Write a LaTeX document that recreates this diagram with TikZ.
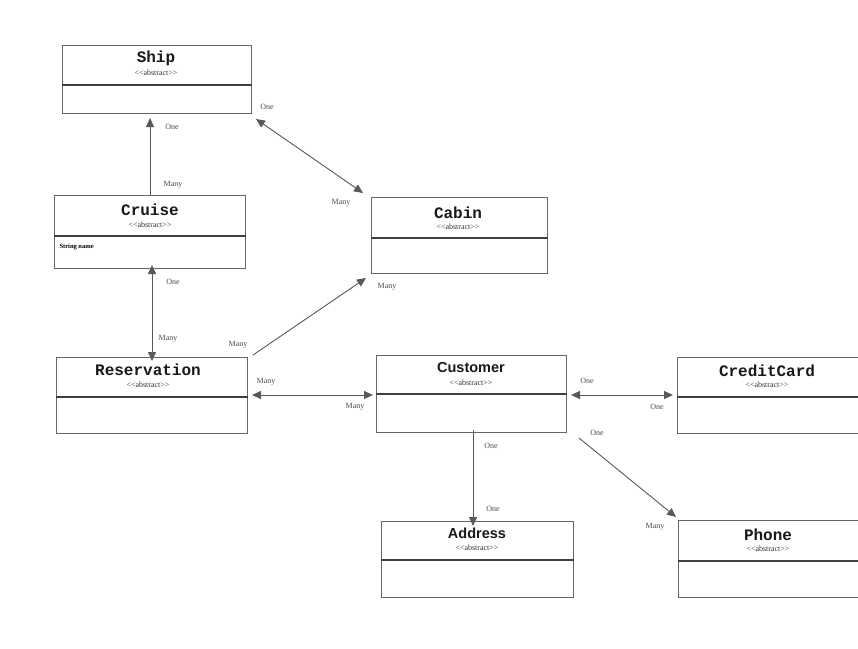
\documentclass[tikz,border=0pt]{standalone}
\usepackage{fontspec}
\setmainfont{Liberation Serif}
\newfontfamily\monob{Liberation Mono}
\newfontfamily\sansb{Liberation Sans}
\usetikzlibrary{arrows.meta}
\newcommand{\abst}{{<}{<}abstract{>}{>}}
\begin{document}
\begin{tikzpicture}[x=1pt,y=-1pt,
  umlbox/.style={draw=black!60, line width=1pt, fill=white, rectangle, inner sep=0pt},
  divider/.style={draw=black!75, line width=1.6pt},
  ttl/.style={font=\monob\bfseries\fontsize{16}{16}\selectfont, text=black!90},
  ttls/.style={font=\sansb\bfseries\fontsize{14.5}{14.5}\selectfont, text=black!90},
  stereo/.style={font=\fontsize{8}{8}\selectfont, text=black!80},
  lbl/.style={font=\fontsize{8}{9}\selectfont, text=black!70},
  assoc/.style={draw=black!65, line width=0.9pt},
  oneway/.style={assoc, -{Triangle[length=9pt,width=8pt]}},
  twoway/.style={assoc, {Triangle[length=9pt,width=8pt]}-{Triangle[length=9pt,width=8pt]}}
]
\useasboundingbox (0,0) rectangle (858,648);
\clip (0,0) rectangle (858,648);
\fill[white] (0,0) rectangle (858,648);

% ---- boxes ----
\node[umlbox, anchor=north west, minimum width=189pt, minimum height=68pt] (ship) at (62,45) {};
\node[umlbox, anchor=north west, minimum width=191pt, minimum height=73pt] (cruise) at (54,195) {};
\node[umlbox, anchor=north west, minimum width=176pt, minimum height=76pt] (cabin) at (371,197) {};
\node[umlbox, anchor=north west, minimum width=191pt, minimum height=76pt] (reservation) at (56,357) {};
\node[umlbox, anchor=north west, minimum width=190pt, minimum height=77pt] (customer) at (376,355) {};
\node[umlbox, anchor=north west, minimum width=181pt, minimum height=76pt] (creditcard) at (677,357) {};
\node[umlbox, anchor=north west, minimum width=192pt, minimum height=76pt] (address) at (381,521) {};
\node[umlbox, anchor=north west, minimum width=180pt, minimum height=77pt] (phone) at (678,520) {};

% ---- dividers ----
\draw[divider] (ship.west |- 0,85) -- (ship.east |- 0,85);
\draw[divider] (cruise.west |- 0,236) -- (cruise.east |- 0,236);
\draw[divider] (cabin.west |- 0,238) -- (cabin.east |- 0,238);
\draw[divider] (reservation.west |- 0,397) -- (reservation.east |- 0,397);
\draw[divider] (customer.west |- 0,394) -- (customer.east |- 0,394);
\draw[divider] (creditcard.west |- 0,397) -- (creditcard.east |- 0,397);
\draw[divider] (address.west |- 0,560) -- (address.east |- 0,560);
\draw[divider] (phone.west |- 0,561) -- (phone.east |- 0,561);

% ---- titles ----
\node[ttl] (shipT) at (156,58) {Ship};
\node[stereo] (shipS) at (156,73) {\abst};
\node[ttl] (cruiseT) at (150,210) {Cruise};
\node[stereo] (cruiseS) at (150,225) {\abst};
\node[font=\fontsize{6.5}{7}\selectfont\bfseries, anchor=west] (cruiseA) at (56,247) {String name};
\node[ttl] (cabinT) at (458,213) {Cabin};
\node[stereo] (cabinS) at (458,227) {\abst};
\node[ttl] (reservationT) at (148,370) {Reservation};
\node[stereo] (reservationS) at (148,385) {\abst};
\node[ttls] (customerT) at (471,368) {Customer};
\node[stereo] (customerS) at (471,383) {\abst};
\node[ttl] (creditcardT) at (767,371) {CreditCard};
\node[stereo] (creditcardS) at (767,385) {\abst};
\node[ttls] (addressT) at (477,533) {Address};
\node[stereo] (addressS) at (477,548) {\abst};
\node[ttl] (phoneT) at (768,535) {Phone};
\node[stereo] (phoneS) at (768,549) {\abst};

% ---- connectors ----
% Cruise -> Ship
\draw[oneway] (cruise.north -| 150,0) -- ([yshift=-4pt]ship.south -| 150,0);
\node[lbl] (l1) at (172,127) {One};
\node[lbl] (l2) at (173,185) {Many};
% Ship <-> Cabin
\draw[twoway] ([shift={(4,5)}]ship.south east) -- ([shift={(-8,-4)}]cabin.north west);
\node[lbl] (l3) at (267,107) {One};
\node[lbl] (l4) at (341,203) {Many};
% Cruise <-> Reservation
\draw[twoway] ([yshift=4pt]cruise.south -| 152,0) -- ([yshift=-4pt]reservation.north -| 152,0);
\node[lbl] (l5) at (173,282) {One};
\node[lbl] (l6) at (168,339) {Many};
% Reservation -> Cabin
\draw[oneway] ([shift={(5,-2)}]reservation.north east) -- ([shift={(-5,4)}]cabin.south west);
\node[lbl] (l7) at (238,345) {Many};
\node[lbl] (l8) at (387,287) {Many};
% Reservation <-> Customer
\draw[twoway] ([xshift=4pt]reservation.east |- 0,395) -- ([xshift=-3pt]customer.west |- 0,395);
\node[lbl] (l9) at (266,382) {Many};
\node[lbl] (l10) at (355,407) {Many};
% Customer <-> CreditCard
\draw[twoway] ([xshift=4pt]customer.east |- 0,395) -- ([xshift=-4pt]creditcard.west |- 0,395);
\node[lbl] (l11) at (587,381) {One};
\node[lbl] (l12) at (657,407) {One};
% Customer -> Address
\draw[oneway] ([yshift=3pt]customer.south -| 473,0) -- ([yshift=-5pt]address.north -| 473,0);
\node[lbl] (l13) at (491,446) {One};
\node[lbl] (l14) at (493,509) {One};
% Customer -> Phone
\draw[oneway] ([shift={(12,5)}]customer.south east) -- ([shift={(-2,-3)}]phone.north west);
\node[lbl] (l15) at (597,433) {One};
\node[lbl] (l16) at (655,527) {Many};
\end{tikzpicture}
\end{document}
